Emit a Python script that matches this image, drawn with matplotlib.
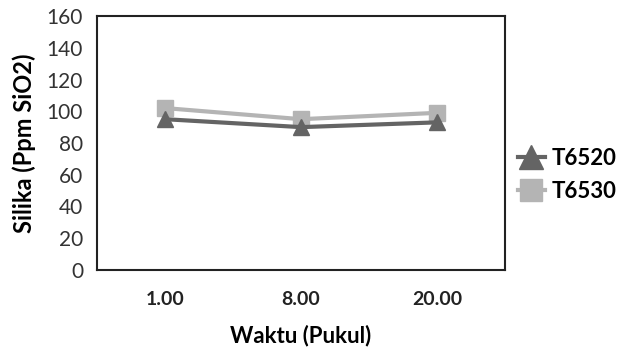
import matplotlib
matplotlib.use("Agg")
import matplotlib.pyplot as plt

categories = ["1.00", "8.00", "20.00"]
t6520 = [95, 90, 93]
t6530 = [102, 95, 99]
yticks = [0, 20, 40, 60, 80, 100, 120, 140, 160]

plt.rcParams['font.family'] = ['Lato', 'DejaVu Sans']

fig = plt.figure(figsize=(6.22, 3.52), dpi=100)
ax = fig.add_axes([97/622, 1-270/352, 408/622, 254/352])
x = list(range(len(categories)))
ax.plot(x, t6520, color='#646464', lw=3, marker='^', ms=12, label='T6520', zorder=3)
ax.plot(x, t6530, color='#b4b4b4', lw=3, marker='s', ms=11, label='T6530', zorder=2)
ax.set_xlim(-0.5, 2.5)
ax.set_ylim(0, 160)
ax.set_yticks(yticks)
ax.set_yticklabels([str(v) for v in yticks], fontsize=15, color='#333333')
ax.set_xticks(x)
ax.set_xticklabels(categories, fontsize=14, fontweight='bold', color='#222222')
ax.tick_params(length=0, pad=10)
ax.tick_params(axis='x', pad=15)
for s in ax.spines.values():
    s.set_linewidth(1.5)
    s.set_color('#222222')
ax.set_xlabel('Waktu (Pukul)', fontsize=16, fontweight='bold', labelpad=12)
ax.set_ylabel('Silika (Ppm SiO2)', fontsize=17, fontweight='bold', labelpad=8)
leg = fig.legend(loc='center left', bbox_to_anchor=(518/622, 1-175/352), frameon=False,
                 prop={'size': 16, 'weight': 'bold'}, handlelength=1.2, handletextpad=0.3,
                 labelspacing=0.55, borderpad=0, borderaxespad=0, markerscale=1.4)
fig.savefig('out.png', dpi=100)
